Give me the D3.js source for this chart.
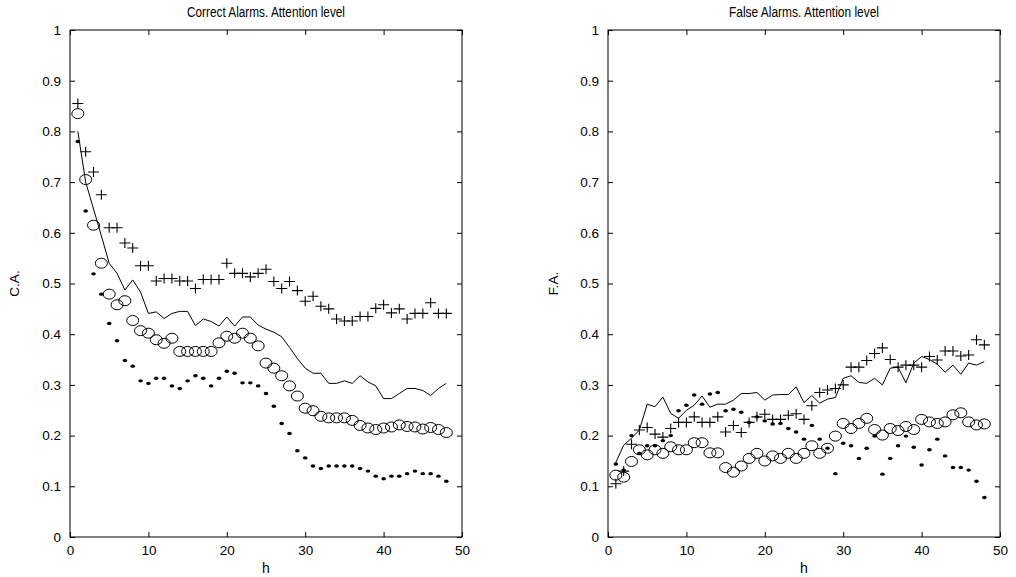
<!DOCTYPE html>
<html>
<head>
<meta charset="utf-8">
<script src="https://cdn.jsdelivr.net/npm/d3@7"></script>
<style>
  body { margin: 0; background: #fff; }
  svg text { font-family: "Liberation Sans", Arial, sans-serif; fill: #000; }
</style>
</head>
<body>
<div class="chart"></div>
<script>
// lag h
let hValues = [1,2,3,4,5,6,7,8,9,10,11,12,13,14,15,16,17,18,19,20,21,22,23,24,
  25,26,27,28,29,30,31,32,33,34,35,36,37,38,39,40,41,42,43,44,45,46,47,48];

// correct alarms
let caPlus = [0.855,0.76,0.72,0.675,0.61,0.61,0.58,0.57,0.535,0.535,0.505,0.51,0.51,0.505,0.505,0.49,
  0.508,0.508,0.508,0.54,0.52,0.52,0.513,0.52,0.528,0.504,0.49,0.504,0.486,0.465,0.475,0.455,
  0.45,0.43,0.426,0.426,0.435,0.435,0.451,0.458,0.442,0.45,0.43,0.441,0.441,0.462,0.441,0.441];
let caCircle = [0.835,0.705,0.615,0.54,0.479,0.458,0.466,0.427,0.407,0.402,0.389,0.382,0.392,0.366,0.366,0.366,
  0.366,0.366,0.383,0.396,0.392,0.402,0.392,0.377,0.343,0.333,0.318,0.298,0.278,0.254,0.249,0.238,
  0.235,0.235,0.235,0.23,0.22,0.215,0.212,0.215,0.217,0.221,0.218,0.217,0.213,0.216,0.212,0.206];
let caDot = [0.78,0.643,0.519,0.479,0.421,0.387,0.348,0.337,0.308,0.303,0.313,0.313,0.298,0.293,0.308,0.318,
  0.313,0.298,0.313,0.327,0.323,0.304,0.304,0.298,0.283,0.258,0.224,0.204,0.17,0.156,0.14,0.135,
  0.14,0.14,0.14,0.14,0.135,0.13,0.12,0.115,0.12,0.12,0.125,0.13,0.125,0.125,0.12,0.11];
let caLine = [0.80,0.70,0.647,0.594,0.54,0.52,0.487,0.507,0.483,0.441,0.444,0.431,0.441,0.445,0.445,0.417,
  0.43,0.425,0.416,0.434,0.416,0.434,0.434,0.418,0.41,0.404,0.395,0.374,0.352,0.333,0.323,0.323,
  0.303,0.303,0.308,0.303,0.318,0.306,0.298,0.273,0.273,0.283,0.293,0.293,0.289,0.279,0.293,0.303];

// false alarms
let faPlus = [0.105,0.13,0.183,0.211,0.216,0.203,0.197,0.214,0.226,0.226,0.237,0.226,0.226,0.237,0.207,0.22,
  0.206,0.226,0.237,0.242,0.232,0.232,0.24,0.243,0.232,0.259,0.285,0.29,0.293,0.30,0.335,0.335,
  0.348,0.362,0.373,0.35,0.335,0.339,0.339,0.335,0.356,0.349,0.367,0.367,0.357,0.359,0.389,0.379];
let faCircle = [0.122,0.118,0.149,0.172,0.162,0.172,0.165,0.178,0.172,0.172,0.186,0.186,0.166,0.166,0.137,0.128,
  0.14,0.155,0.165,0.15,0.16,0.155,0.165,0.155,0.165,0.18,0.165,0.175,0.199,0.224,0.214,0.224,
  0.234,0.212,0.201,0.214,0.21,0.218,0.212,0.232,0.227,0.224,0.227,0.241,0.245,0.227,0.221,0.223];
let faDot = [0.144,0.132,0.2,0.165,0.18,0.18,0.19,0.2,0.249,0.26,0.28,0.262,0.282,0.285,0.249,0.252,
  0.246,0.226,0.237,0.229,0.223,0.224,0.214,0.207,0.193,0.22,0.193,0.175,0.125,0.185,0.18,0.155,
  0.175,0.199,0.124,0.155,0.18,0.199,0.177,0.142,0.172,0.193,0.16,0.137,0.137,0.132,0.11,0.078];
let faLine = [0.147,0.181,0.195,0.211,0.262,0.257,0.276,0.244,0.234,0.25,0.26,0.278,0.256,0.262,0.262,0.27,
  0.283,0.283,0.285,0.27,0.28,0.281,0.281,0.296,0.265,0.279,0.264,0.272,0.275,0.313,0.318,0.305,
  0.303,0.313,0.30,0.333,0.335,0.304,0.343,0.356,0.35,0.341,0.325,0.339,0.321,0.343,0.339,0.346];

let xTicks = [0, 10, 20, 30, 40, 50];
let yTicks = [0, 0.1, 0.2, 0.3, 0.4, 0.5, 0.6, 0.7, 0.8, 0.9, 1];
let yTickLabels = ["0", "0.1", "0.2", "0.3", "0.4", "0.5", "0.6", "0.7", "0.8", "0.9", "1"];

let width = 1016, height = 577;
let plotTop = 30, plotBottom = 537;
let fontFamily = "Liberation Sans, Arial, sans-serif";

let svg = d3.select(".chart")
  .append("svg")
    .attr("width", width)
    .attr("height", height);

function drawPanel(left, right, title, titleWidth, yLabel, yLabelX, plus, circle, dot, line) {
  let g = svg.append("g");

  let x = d3.scaleLinear().domain([0, 50]).range([left, right]);
  let y = d3.scaleLinear().domain([0, 1]).range([plotBottom, plotTop]);

  // axes, ticks inside the box like matlab
  g.append("g")
      .attr("transform", "translate(0," + plotBottom + ")")
      .call(d3.axisBottom(x).tickValues(xTicks).tickSize(-5).tickPadding(8).tickFormat(d3.format("d")));
  g.append("g")
      .attr("transform", "translate(0," + plotTop + ")")
      .call(d3.axisTop(x).tickValues(xTicks).tickSize(-5).tickFormat(""));
  g.append("g")
      .attr("transform", "translate(" + left + ",0)")
      .call(d3.axisLeft(y).tickValues(yTicks).tickSize(-5).tickPadding(9)
        .tickFormat((d, i) => yTickLabels[i]));
  g.append("g")
      .attr("transform", "translate(" + right + ",0)")
      .call(d3.axisRight(y).tickValues(yTicks).tickSize(-5).tickFormat(""));

  g.selectAll(".domain").remove();
  g.selectAll(".tick line").attr("stroke", "#000");
  g.selectAll(".tick text").attr("font-size", 13.5).attr("font-family", fontFamily);

  g.append("rect")
      .attr("x", left).attr("y", plotTop)
      .attr("width", right - left).attr("height", plotBottom - plotTop)
      .attr("fill", "none").attr("stroke", "#000").attr("stroke-width", 1);

  // the plain line series
  let lineGen = d3.line()
      .x((d, i) => x(hValues[i]))
      .y(d => y(d));
  g.append("path")
      .datum(line)
      .attr("d", lineGen)
      .attr("fill", "none")
      .attr("stroke", "#000")
      .attr("stroke-width", 1);

  // + markers
  g.selectAll(".plus")
    .data(plus)
    .enter()
    .append("path")
      .attr("class", "plus")
      .attr("d", (d, i) => {
        let cx = x(hValues[i]), cy = y(d);
        return "M" + (cx - 5.5) + "," + cy + "H" + (cx + 5.5) + "M" + cx + "," + (cy - 5) + "V" + (cy + 5);
      })
      .attr("stroke", "#000")
      .attr("stroke-width", 1.1)
      .attr("fill", "none");

  // o markers
  g.selectAll(".circ")
    .data(circle)
    .enter()
    .append("ellipse")
      .attr("class", "circ")
      .attr("cx", (d, i) => x(hValues[i]))
      .attr("cy", d => y(d))
      .attr("rx", 6)
      .attr("ry", 5)
      .attr("fill", "none")
      .attr("stroke", "#000")
      .attr("stroke-width", 1);

  // . markers
  g.selectAll(".dot")
    .data(dot)
    .enter()
    .append("ellipse")
      .attr("class", "dot")
      .attr("cx", (d, i) => x(hValues[i]))
      .attr("cy", d => y(d))
      .attr("rx", 2.3)
      .attr("ry", 1.7)
      .attr("fill", "#000");

  // labels, title squeezed a bit like the narrow helvetica of the original
  g.append("text")
      .attr("x", (left + right) / 2)
      .attr("y", 17)
      .attr("text-anchor", "middle")
      .attr("font-size", 14)
      .attr("textLength", titleWidth)
      .attr("lengthAdjust", "spacingAndGlyphs")
      .text(title);
  g.append("text")
      .attr("x", (left + right) / 2)
      .attr("y", 573)
      .attr("text-anchor", "middle")
      .attr("font-size", 14)
      .text("h");
  g.append("text")
      .attr("transform", "translate(" + yLabelX + "," + ((plotTop + plotBottom) / 2) + ") rotate(-90)")
      .attr("text-anchor", "middle")
      .attr("font-size", 13.5)
      .text(yLabel);
}

drawPanel(70, 462, "Correct Alarms. Attention level", 158, "C.A.", 19, caPlus, caCircle, caDot, caLine);
drawPanel(608, 1000, "False Alarms. Attention level", 150, "F.A.", 558, faPlus, faCircle, faDot, faLine);
</script>
</body>
</html>
